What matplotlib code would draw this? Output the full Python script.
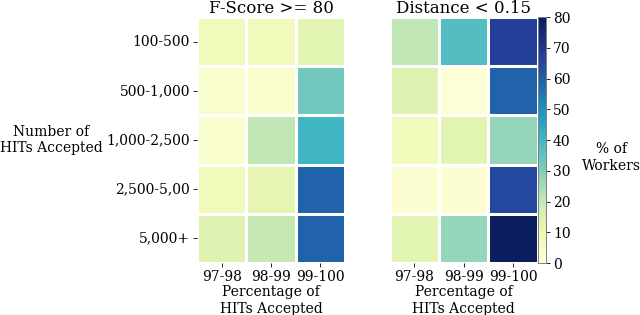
import numpy as np
import pandas as pd
import matplotlib
matplotlib.use("Agg")
import matplotlib.pyplot as plt
import seaborn as sns

plt.rcParams['font.family'] = ['DejaVu Serif']

# rows: number of HITs accepted, cols: percentage of HITs accepted
hits_bins = ["100-500", "500-1,000", "1,000-2,500", "2,500-5,00", "5,000+"]
pct_bins = ["97-98", "98-99", "99-100"]

fscore = [[8, 8, 13],
          [3, 3, 32],
          [3, 21, 40],
          [8, 12, 59],
          [14, 20, 59]]

distance = [[21, 37, 67],
            [14, 1, 59],
            [8, 13, 27],
            [2, 2, 65],
            [13, 27, 79]]

fig = plt.figure(figsize=(6.4, 3.15), dpi=100)
ax1 = fig.add_axes([0.308, 0.165, 0.231, 0.781])
ax2 = fig.add_axes([0.609, 0.165, 0.231, 0.781])
cax = fig.add_axes([0.841, 0.165, 0.012, 0.781])

df1 = pd.DataFrame(fscore, index=hits_bins, columns=pct_bins)
df2 = pd.DataFrame(distance, index=hits_bins, columns=pct_bins)

sns.heatmap(df1, ax=ax1, cmap="YlGnBu", vmin=0, vmax=80, linewidths=1,
            linecolor="white", cbar=False)
sns.heatmap(df2, ax=ax2, cmap="YlGnBu", vmin=0, vmax=80, linewidths=1,
            linecolor="white", cbar_ax=cax)

ax1.set_title("F-Score >= 80", fontsize=12, pad=2)
ax2.set_title("Distance < 0.15", fontsize=12, pad=2)
ax1.set_ylabel("Number of\nHITs Accepted", rotation=0, fontsize=10,
               ha="center", va="center")
ax1.yaxis.set_label_coords(-0.985, 0.5)
ax2.set_yticks([])
for ax in (ax1, ax2):
    ax.set_xlabel("Percentage of\nHITs Accepted", fontsize=10, labelpad=1)
    ax.tick_params(axis='both', labelsize=10, length=3, width=0.6, pad=2)
    ax.set_xticklabels(pct_bins, rotation=0)
ax1.set_yticklabels(hits_bins, rotation=0)

cax.tick_params(labelsize=10, length=3, width=0.6, pad=2)
cax.set_yticks(range(0, 81, 10))
for s in cax.spines.values():
    s.set_visible(True)
    s.set_color("0.5")
    s.set_linewidth(0.6)
fig.text(0.956, 0.5, "% of\nWorkers", ha="center", va="center", fontsize=10)

fig.savefig("out.png", dpi=100)
